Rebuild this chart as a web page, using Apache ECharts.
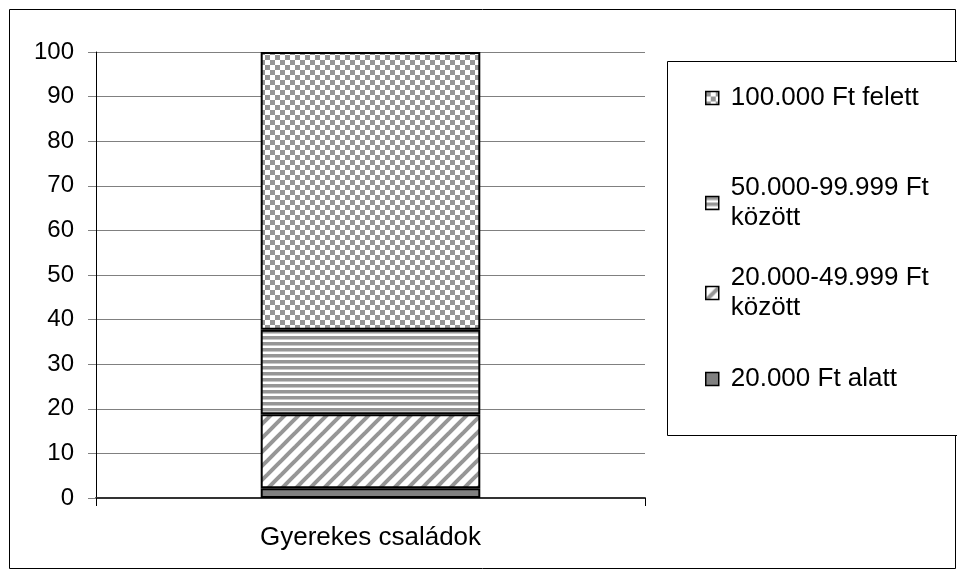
<!DOCTYPE html>
<html>
<head>
<meta charset="utf-8">
<script src="https://cdn.jsdelivr.net/npm/echarts@6/dist/echarts.min.js"></script>
<style>
html,body{margin:0;padding:0;background:#fff;}
#chart{width:957px;height:571px;}
</style>
</head>
<body>
<div id="chart"></div>
<script>
// ---- data ----
const categories = ['Gyerekes családok'];
const nameUnder20k = '20.000 Ft alatt';
const name20to50k = '20.000-49.999 Ft között';
const name50to100k = '50.000-99.999 Ft között';
const nameOver100k = '100.000 Ft felett';
const valuesUnder20k = [2.2];
const values20to50k = [16.6];
const values50to100k = [18.9];
const valuesOver100k = [62.3];
const yMin = 0, yMax = 100, yStep = 10;

// ---- patterns ----
function tile(w, h, draw) {
  const c = document.createElement('canvas');
  c.width = w; c.height = h;
  const ctx = c.getContext('2d');
  ctx.fillStyle = '#ffffff';
  ctx.fillRect(0, 0, w, h);
  draw(ctx);
  return c;
}
const gray = '#969696';
const checker = tile(10, 10, ctx => {
  ctx.fillStyle = gray;
  ctx.fillRect(0, 0, 5, 5);
  ctx.fillRect(5, 5, 5, 5);
});
const hstripes = tile(6, 6, ctx => {
  ctx.fillStyle = gray;
  ctx.fillRect(0, 0, 6, 3);
  ctx.fillStyle = '#c8c8c8';
  ctx.fillRect(0, 3, 6, 1);
});
const diag = tile(14, 14, ctx => {
  ctx.strokeStyle = gray;
  ctx.lineWidth = 4;
  for (let x = -14; x <= 14; x += 14) {
    ctx.beginPath();
    ctx.moveTo(x - 3, 17);
    ctx.lineTo(x + 17, -3);
    ctx.stroke();
  }
});

const font = '"Liberation Sans", Arial, sans-serif';
const fsAxis = 24;
const fsText = 26;

function bar(name, data, fill) {
  return {
    name: name, type: 'bar', stack: 'total', data: data,
    barWidth: '40%',
    itemStyle: { color: fill, borderColor: '#000', borderWidth: 2 },
    emphasis: { disabled: true }
  };
}

function legendAt(name, top, twoLine) {
  return {
    data: [name],
    left: 705, top: top,
    orient: 'vertical',
    padding: 0,
    itemWidth: 13, itemHeight: 13,
    icon: 'rect',
    selectedMode: false,
    itemStyle: { borderColor: '#000', borderWidth: 1.5 },
    formatter: function (n) {
      if (!twoLine) return n;
      const i = n.lastIndexOf(' ');
      return n.slice(0, i) + '\n' + n.slice(i + 1);
    },
    textStyle: {
      fontFamily: font, fontSize: fsText, color: '#000', lineHeight: 30,
      padding: twoLine ? [30, 0, 0, 7] : [0, 0, 0, 7]
    }
  };
}

const chart = echarts.init(document.getElementById('chart'), null, { renderer: 'canvas' });
chart.setOption({
  animation: false,
  backgroundColor: '#fff',
  graphic: [
    { type: 'rect', shape: { x: 9.5, y: 9.5, width: 946, height: 559 }, style: { fill: 'none', stroke: '#000', lineWidth: 1 }, z: -10 },
    { type: 'rect', shape: { x: 667.5, y: 61.5, width: 300, height: 374 }, style: { fill: '#fff', stroke: '#000', lineWidth: 1 }, z: -5 }
  ],
  grid: { left: 96, top: 52, right: 312, bottom: 73, containLabel: false },
  legend: [
    legendAt(nameOver100k, 83, false),
    legendAt(name50to100k, 158, true),
    legendAt(name20to50k, 248, true),
    legendAt(nameUnder20k, 364, false)
  ],
  xAxis: {
    type: 'category',
    data: categories,
    boundaryGap: true,
    axisLine: { lineStyle: { color: '#333', width: 2 } },
    axisTick: { show: true, length: 8, lineStyle: { color: '#000', width: 1 } },
    axisLabel: { margin: 27, fontFamily: font, fontSize: fsText, color: '#000' },
    splitLine: { show: false }
  },
  yAxis: {
    type: 'value',
    min: yMin, max: yMax, interval: yStep,
    axisLine: { show: true, lineStyle: { color: '#000', width: 1 } },
    axisTick: { show: true, length: 8, lineStyle: { color: '#808080', width: 1 } },
    axisLabel: { margin: 22, fontFamily: font, fontSize: fsAxis, color: '#000' },
    splitLine: { show: true, lineStyle: { color: '#808080', width: 1 } }
  },
  series: [
    bar(nameUnder20k, valuesUnder20k, '#808080'),
    bar(name20to50k, values20to50k, { image: diag, repeat: 'repeat' }),
    bar(name50to100k, values50to100k, { image: hstripes, repeat: 'repeat' }),
    bar(nameOver100k, valuesOver100k, { image: checker, repeat: 'repeat' })
  ]
});
</script>
</body>
</html>
